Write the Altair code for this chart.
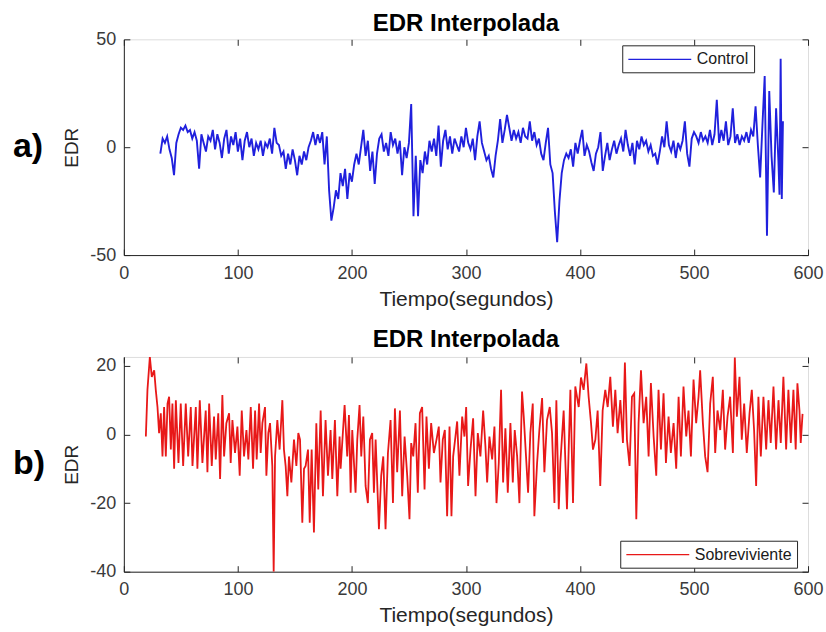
import altair as alt
import pandas as pd

# ---------------- data ----------------
series_names = ["Control", "Sobreviviente"]
panel_labels = ["a)", "b)"]
title_text = "EDR Interpolada"
x_title = "Tiempo(segundos)"
y_title = "EDR"

x_ticks = [0, 100, 200, 300, 400, 500, 600]
x_domain = [0, 600]
y_ticks_a = [-50, 0, 50]
y_domain_a = [-50, 50]
y_ticks_b = [-40, -20, 0, 20]
y_domain_b = [-40, 22.6]

# Control: samples every 2 s from 32 s, plus the last few seconds
control_t = list(range(32, 576, 2)) + [575, 576, 577, 578]
control_v = [
    -3, 4, 2, 5, -1, -5, -13, 2, 6, 9,
    8, 10, 7, 8, 4, 7, 3, -10, 6, 2,
    -2, 5, 3, 8, -1, 6, 2, -5, 4, 8,
    -3, 5, 1, 7, -2, 4, -6, 3, 7, 0,
    4, -4, 2, -1, 3, -4, 2, 0, 4, -3,
    9, 2, 1, -4, -2, -10, -3, -8, -1, -6,
    -13, -4, -8, -2, -6, 0, 3, 7, 1, 6,
    2, 7, -8, 5, -20, -34, -28, -20, -24, -12,
    -18, -10, -24, -12, -16, -8, -3, -8, 0, 8,
    -4, 3, -11, -2, -17, -3, 4, 6, -2, 2,
    -4, 7, 1, 4, -3, 3, -13, 0, -5, 2,
    20, -32, -4, -32, -6, -12, -2, -8, 3, -2,
    4, -4, 10, -9, 3, 8, -1, 5, -3, 4,
    1, -2, 5, 0, 9, 2, -1, 4, -6, 5,
    12, 2, -2, -6, -4, -10, -14, -4, 3, 13,
    2, 8, 15, 9, 3, 8, 4, 7, 2, 9,
    5, 4, 12, 3, 7, 1, 4, -3, -6, 2,
    9, -8, -12, -30, -44, -25, -12, -6, -3, -5,
    -1, -9, 2, -3, 3, 8, -4, 1, -2, -7,
    -11, -3, 0, 7, -11, -4, 2, -6, -1, 3,
    -3, 1, 4, -2, 8, 1, -4, 2, -8, 3,
    -1, 5, 1, 3, -2, 1, -4, -3, -8, -2,
    5, 0, 12, 1, -2, 3, -5, 2, -1, 3,
    12, -3, -9, 4, 7, 5, 2, 7, 3, 5,
    2, 8, 1, 6, 22, 2, 8, 3, 12, 1,
    5, 18, 2, 6, 1, 5, 3, 7, 2, 8,
    5, 19, 1, -14, 10, 33, -41, 26, -4, -21,
    18, -6,
    -22, 41, -24, 12,
]

surv_t = [
    19.3, 20.7, 22.8, 24.5, 26.6, 28.0, 29.5, 30.9, 32.4, 33.9,
    35.3, 36.8, 38.3, 39.7, 41.2, 42.6, 44.1, 45.6, 47.9, 49.9,
    52.0, 54.3, 56.4, 58.7, 60.2, 63.1, 64.5, 66.6, 68.9, 71.8,
    73.3, 74.8, 77.1, 79.1, 80.6, 82.8, 84.4, 86.4, 87.9, 89.9,
    92.3, 93.7, 95.2, 97.5, 99.6, 101.6, 103.4, 105.4, 107.5, 109.2,
    111.3, 113.3, 115.1, 116.5, 118.6, 120.0, 121.5, 123.8, 125.0, 126.7,
    128.2, 130.2, 131.4, 132.6, 134.6, 136.6, 139.0, 140.4, 141.9, 143.4,
    144.8, 146.9, 149.2, 151.3, 153.0, 154.5, 156.5, 158.0, 159.4, 161.5,
    163.0, 164.7, 166.7, 168.8, 170.5, 172.6, 174.6, 176.9, 179.0, 181.3,
    182.8, 185.1, 187.2, 189.2,
    190.1, 193.6, 195.9, 197.4, 198.9, 200.3, 203.2, 204.7, 206.7, 208.2,
    210.0, 212.0, 214.0, 215.8, 217.8, 219.3, 220.8, 222.2, 223.7, 225.7,
    227.5, 229.5, 231.6, 233.9, 236.0, 237.7, 239.7, 242.1, 244.1, 246.2,
    248.5, 250.5, 252.0, 253.8, 255.8, 257.8, 259.6, 261.6, 263.7, 265.4,
    267.5, 269.5, 271.9, 274.2, 276.2, 277.7, 279.7, 281.5, 283.5, 285.6,
    287.3, 288.8, 290.8, 292.3, 294.3, 296.7, 298.7, 300.2, 301.9, 304.0,
    306.3, 308.4, 310.4, 312.7, 315.1, 317.1, 318.6, 320.6, 323.0, 325.0,
    326.8, 328.8, 330.8, 332.6, 334.6, 336.7, 339.0, 341.1, 342.8, 344.9,
    346.9, 349.2, 350.7, 352.7, 354.5, 356.5, 358.6, 360.0, 362.4, 364.4,
    366.8, 368.8, 371.1, 373.5, 375.5, 377.6, 379.3, 381.4,
    382.8, 385.7, 388.6, 391.6, 393.9, 395.9, 398.9, 400.9, 403.2, 405.6,
    407.6, 409.7, 411.4, 413.5, 415.5, 417.8, 419.9, 422.2, 424.3, 426.6,
    428.9, 431.0, 433.0, 435.4, 437.7, 439.4, 441.2, 443.5, 445.6, 447.6,
    449.4, 451.4, 453.5, 455.8, 458.1, 460.2, 462.2, 464.6, 466.9, 468.9,
    471.0, 473.3, 475.4, 477.7, 479.7, 482.1, 484.4, 486.5, 488.5, 490.8,
    493.2, 495.2, 497.3, 499.6, 501.9, 504.0, 505.4, 507.8, 509.8, 511.9,
    514.2, 516.5, 518.6, 520.6, 523.0, 525.3, 527.3, 529.4, 531.7, 534.1,
    535.8, 537.6, 539.9, 541.9, 544.0, 546.3, 548.7, 550.7, 552.7, 554.5,
    556.5, 558.6, 560.9, 563.3, 565.3, 567.3, 569.7, 572.0, 574.1, 576.1,
    578.4, 580.8, 582.8, 584.9, 587.2, 589.2, 590.7, 592.5, 593.6, 595.2,
]
surv_v = [
    -0.6, 13, 22.6, 16.8, 18.7, 13, 8, 0.4, 6.2, -6.4,
    8, -6.4, 9, 11, -4.4, 9, -10, 10, -8.3, 9,
    -9.2, 9, -6.4, 8, -9.2, 8, -10, 10, -8.3, 7,
    -11, 9, -9.2, 5.2, -7.3, 6.2, -13, 11.5, -6.4, 3.3,
    6.2, -8.3, 4.2, -5.4, 2.3, -12, 7, -6.4, 1.3, -7.3,
    8, -10, 7, -7.3, 9, -5.4, 3.3, 8, -12, 0.4,
    3.3, -9.2, -40, -6.4, 4.2, -4.4, 10, -4.4, -9.2, -18,
    -6.4, -14, -1.5, -9.2, 0.4, -1.5, -25.7, -10, -9.2, -4.4,
    -25.7, -4.4, -28.6, 3.3, -16, 7, -18, 4.2, -12, 1.3,
    -13, 4.2, -18, -0.6,
    -10, 8.6, -6.4, 5.7, -17, 1.3, -17, -1.5, 8.6, -6.4,
    5.2, -15, -20, -1.5, 0.4, -17, -1.5, -14, -27.6, -12,
    -6.4, -27.6, -5.4, 4.2, -20, 7.6, -11, 7, -18, -0.6,
    -12, -24.7, -2.5, -6.4, 3.3, -17, 6.2, 8, -16, 5.2,
    -10, 3.3, -5.4, -1.5, 2.3, -14, -1.5, 1.3, -23.8, 2.3,
    -23.8, -6.4, -0.6, 3.8, -12, 5.2, -0.6, 8, -15, -4.4,
    4.7, -18, 0.4, -6.4, 7, -3.5, -14, -0.6, -7.3, 2.3,
    -20, -8.3, 13, -14, 1.8, -17, 3.3, -14, 1.3, -6.4,
    -20, 12.5, 5.2, -6.4, -17, 0.4, 9, -23.8, -8.3, 1.3,
    10.6, -11, 4.2, 8, 0.4, -20, 10, -21.8,
    -8.3, 7, -21.8, 13, -20, 14, 8, 16.6, 13, 20.7,
    11, 3.3, -4.4, -1.5, 7, -15, 7, 13, 8, 16.8,
    2.3, 13, 0.4, 10, -2.5, 21, -1.5, -9.2, 11, 12,
    -24.7, 3.3, 18.7, 3.3, 11, -6.4, 15, -0.6, -12, 13,
    -4.4, 12, -8.3, 5.2, -5.4, 3.3, -10, 11, -6.4, 14,
    -0.6, 7, -6.4, 16, 3.3, 11, 18.7, 3.3, -6.4, -11,
    9, 16.8, -5.4, 7, 1.3, 13, -4.4, 5.2, 11, -5.4,
    22.4, 5.2, 16.8, -1.5, 9, -5.4, 6.2, 13, 1.3, -15,
    11, -6.4, 11, -4.4, 10, -2.5, 14, -4.4, 10, -2.5,
    16.8, -4.4, 13, -2.5, 13, -4.4, 14.9, 7, -2.5, 6,
]

# ---------------- styling ----------------
W = 685
H_A = 216
H_B = 215
FONT = "Liberation Sans"
INK = "#262626"
LABEL_INK = "#3a3a3a"
# legend sample line: a long horizontal path in a small symbol slot
SYM_PATH = "M-4,0H4"
SYM_SIZE = 248          # slot of sqrt(248) ~ 15.7 px, line of ~63 px


def panel(t, v, name, field, color, legend_color, y_dom, y_ticks, h, label, lx, ly,
          width, title_offset):
    df = pd.DataFrame({"t": t, "v": v, field: [name] * len(t)})
    x_enc = alt.X(
        "t:Q",
        scale=alt.Scale(domain=x_domain, nice=False, zero=False),
        axis=alt.Axis(
            values=x_ticks, title=x_title, grid=True,
            gridDash=[6, h - 12, 6, 3000], gridColor=INK, gridOpacity=1, gridWidth=1,
            ticks=False, domainColor=INK, domainWidth=1,
            labelPadding=9, labelFontSize=18, labelFont=FONT, labelColor=LABEL_INK,
            labelFlush=False, labelOverlap=False, labelExpr="toString(datum.value)",
            titleFont=FONT, titleFontSize=21, titleFontWeight="normal", titleColor=INK,
            titlePadding=6,
        ),
    )
    y_enc = alt.Y(
        "v:Q",
        scale=alt.Scale(domain=y_dom, nice=False, zero=False),
        axis=alt.Axis(
            values=y_ticks, title=y_title, grid=True,
            gridDash=[6, W - 12, 6, 3000], gridColor=INK, gridOpacity=1, gridWidth=1,
            ticks=False, domainColor=INK, domainWidth=1,
            labelPadding=8, labelFontSize=18, labelFont=FONT, labelColor=LABEL_INK,
            labelFlush=False, labelOverlap=False, labelExpr="toString(datum.value)",
            titleFont=FONT, titleFontSize=19, titleFontWeight="normal", titleColor=INK,
            titlePadding=8,
        ),
    )
    line = alt.Chart(df).mark_line(strokeWidth=width, clip=True).encode(
        x=x_enc,
        y=y_enc,
        color=alt.Color(
            f"{field}:N",
            scale=alt.Scale(domain=[name], range=[color]),
            legend=alt.Legend(
                title=None, orient="none", legendX=lx, legendY=ly,
                symbolType=SYM_PATH, symbolSize=SYM_SIZE, symbolStrokeWidth=1.3,
                symbolStrokeColor=legend_color, symbolOffset=23.6,
                labelFont=FONT, labelFontSize=16, labelColor="#1a1a1a",
                labelOffset=28, padding=5, strokeColor=INK, fillColor="white",
                cornerRadius=0,
            ),
        ),
    )
    lab = alt.Chart(pd.DataFrame({"lab": [label]})).mark_text(
        align="left", baseline="middle", font=FONT, fontSize=34,
        fontWeight="bold", color="black",
    ).encode(text="lab:N", x=alt.value(-111), y=alt.value(h / 2))
    return alt.layer(line, lab).properties(
        width=W, height=h,
        title=alt.TitleParams(title_text, font=FONT, fontSize=24, fontWeight="bold",
                              color="black", anchor="middle", offset=title_offset),
    )


top = panel(control_t, control_v, series_names[0], "serie_a", "#2020dd", "#1a1a70",
            y_domain_a, y_ticks_a, H_A, panel_labels[0], 499, 6, 1.9, -6)
bottom = panel(surv_t, surv_v, series_names[1], "serie_b", "#e81818", "#8a1a1a",
               y_domain_b, y_ticks_b, H_B, panel_labels[1], 497, 184, 1.8, 5)

chart = alt.vconcat(top, bottom, spacing=17,
                    padding={"left": 12, "top": 11, "right": 2, "bottom": 2}
                    ).resolve_scale(color="independent").resolve_legend(color="independent"
                    ).configure_view(stroke=INK, strokeWidth=1).configure(background="white")

chart.save("out.html", embed_options={"renderer": "svg", "actions": False})
